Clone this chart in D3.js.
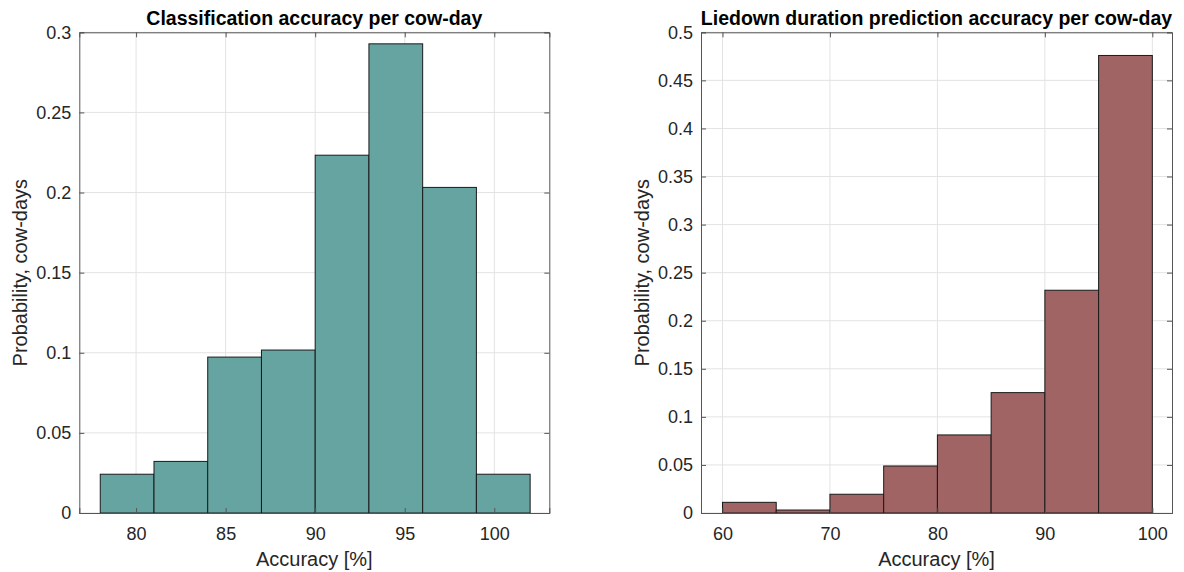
<!DOCTYPE html>
<html><head><meta charset="utf-8">
<script src="https://cdn.jsdelivr.net/npm/d3@7"></script>
<style>body{margin:0;background:#fff}svg{display:block}</style>
</head><body>
<svg id="c" width="1184" height="572"></svg>
<script>
// Left histogram: classification accuracy
const leftEdges = [78, 81, 84, 87, 90, 93, 96, 99, 102];
const leftValues = [0.0242, 0.0322, 0.0973, 0.1017, 0.2233, 0.2928, 0.2032, 0.0242];
const leftXTicks = [80, 85, 90, 95, 100];
const leftYTicks = [0, 0.05, 0.1, 0.15, 0.2, 0.25, 0.3];
// Right histogram: liedown duration accuracy
const rightEdges = [60, 65, 70, 75, 80, 85, 90, 95, 100];
const rightValues = [0.0111, 0.0031, 0.0195, 0.0489, 0.0812, 0.1252, 0.2317, 0.4759];
const rightXTicks = [60, 70, 80, 90, 100];
const rightYTicks = [0, 0.05, 0.1, 0.15, 0.2, 0.25, 0.3, 0.35, 0.4, 0.45, 0.5];

const svg = d3.select("#c");
const font = "'Liberation Sans', Arial, Helvetica, sans-serif";

function panel(o) {
  const g = svg.append("g");
  const x = d3.scaleLinear().domain(o.xDomain).range([o.left, o.right]);
  const y = d3.scaleLinear().domain(o.yDomain).range([o.bottom, o.top]);
  // grid
  g.append("g").selectAll("line").data(o.xTicks).join("line")
    .attr("x1", d => x(d)).attr("x2", d => x(d)).attr("y1", o.top).attr("y2", o.bottom)
    .attr("stroke", "#e3e3e3").attr("stroke-width", 1);
  g.append("g").selectAll("line").data(o.yTicks).join("line")
    .attr("x1", o.left).attr("x2", o.right).attr("y1", d => y(d)).attr("y2", d => y(d))
    .attr("stroke", "#e3e3e3").attr("stroke-width", 1);
  // bars
  const bins = o.values.map((v, i) => ({x0: o.edges[i], x1: o.edges[i + 1], v}));
  g.append("g").selectAll("rect").data(bins).join("rect")
    .attr("x", d => x(d.x0)).attr("width", d => x(d.x1) - x(d.x0))
    .attr("y", d => y(d.v)).attr("height", d => y(0) - y(d.v))
    .attr("fill", o.color)
    .attr("stroke", "#1a1a1a").attr("stroke-width", 1);
  // axes box
  const ax = g.append("g").attr("transform", `translate(0,${o.bottom})`)
    .call(d3.axisBottom(x).tickValues(o.xTicks).tickSize(-5).tickPadding(14).tickFormat(d3.format("d")));
  const axT = g.append("g").attr("transform", `translate(0,${o.top})`)
    .call(d3.axisTop(x).tickValues(o.xTicks).tickSize(-5).tickFormat(""));
  const ay = g.append("g").attr("transform", `translate(${o.left},0)`)
    .call(d3.axisLeft(y).tickValues(o.yTicks).tickSize(-5).tickPadding(8).tickFormat(d => d === 0 ? "0" : String(+d.toFixed(2))));
  const ayR = g.append("g").attr("transform", `translate(${o.right},0)`)
    .call(d3.axisRight(y).tickValues(o.yTicks).tickSize(-5).tickFormat(""));
  [ax, axT, ay, ayR].forEach(a => {
    a.selectAll(".domain").attr("stroke", "#555").attr("stroke-width", 1);
    a.selectAll(".tick line").attr("stroke", "#555");
    a.selectAll("text").attr("font-family", font).attr("font-size", 18).attr("fill", "#262626");
  });
  // labels
  g.append("text").attr("x", (o.left + o.right) / 2).attr("y", 25)
    .attr("text-anchor", "middle").attr("font-family", font).attr("font-weight", "bold")
    .attr("font-size", 19.5).attr("fill", "#000").text(o.title);
  g.append("text").attr("x", (o.left + o.right) / 2).attr("y", 566)
    .attr("text-anchor", "middle").attr("font-family", font)
    .attr("font-size", 20).attr("fill", "#262626").text("Accuracy [%]");
  g.append("text").attr("transform", `translate(${o.ylabX},${(o.top + o.bottom) / 2}) rotate(-90)`)
    .attr("text-anchor", "middle").attr("font-family", font)
    .attr("font-size", 20).attr("fill", "#262626").text("Probability, cow-days");
}

panel({left: 79.3, right: 549.3, top: 32.3, bottom: 513, xDomain: [76.83, 103.07], yDomain: [0, 0.3],
  edges: leftEdges, values: leftValues, xTicks: leftXTicks, yTicks: leftYTicks,
  color: "#66a4a2", title: "Classification accuracy per cow-day", ylabX: 27});
panel({left: 701, right: 1172, top: 32.3, bottom: 513, xDomain: [58, 101.83], yDomain: [0, 0.5],
  edges: rightEdges, values: rightValues, xTicks: rightXTicks, yTicks: rightYTicks,
  color: "#a06464", title: "Liedown duration prediction accuracy per cow-day", ylabX: 649});
</script>
</body></html>
